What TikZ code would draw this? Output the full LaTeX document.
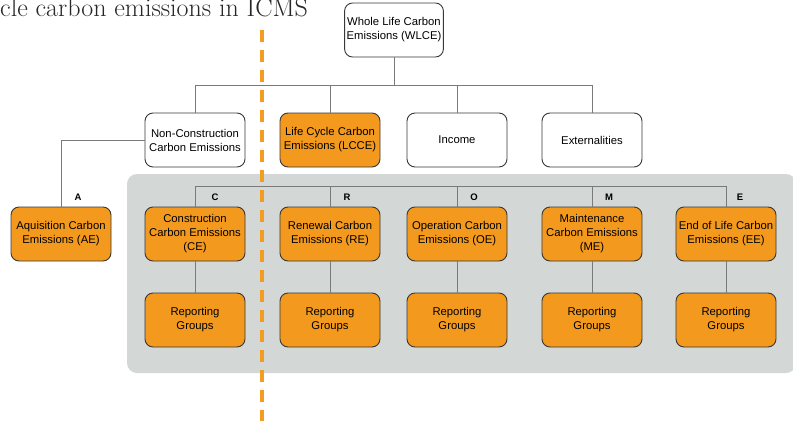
\documentclass[tikz,border=0pt]{standalone}
\usepackage{fontspec}
\setsansfont{Liberation Sans}
\definecolor{boxorange}{HTML}{F39A1E}
\definecolor{panelgray}{HTML}{D3D7D6}
\definecolor{linegray}{HTML}{7A7A7A}
\definecolor{edgegray}{HTML}{383838}
\definecolor{cutorange}{HTML}{F39C1F}

\begin{document}
\begin{tikzpicture}[x=1pt, y=-1pt,
    box/.style={draw=edgegray, line width=0.9pt, rounded corners=8pt,
      minimum width=100pt, minimum height=54pt, align=center, inner sep=2pt,
      font=\sffamily\fontsize{11.3}{14}\selectfont},
    obox/.style={box, fill=boxorange},
    wbox/.style={box, fill=white},
    conn/.style={draw=linegray, line width=0.8pt},
    lbl/.style={font=\sffamily\bfseries\fontsize{9.5}{10}\selectfont}]
    \useasboundingbox (0, 0) rectangle (793, 421);
    \node[anchor=base west, inner sep=0pt, font=\fontsize{26}{26}\selectfont, text=black!85] (title) at (0, 16) {cle carbon emissions in ICMS};

    % grey panel behind the life cycle stages
    \fill[panelgray, rounded corners=10pt] (127, 174) rectangle (796, 373);

    \node[wbox, minimum width=98pt] (wlce) at (394, 30) {Whole Life Carbon\\Emissions (WLCE)};
    \node[wbox] (ncce) at (195, 140) {Non-Construction\\Carbon Emissions};
    \node[obox] (lcce) at (330, 140) {Life Cycle Carbon\\Emissions (LCCE)};
    \node[wbox] (income) at (457, 140) {Income};
    \node[wbox] (ext) at (592, 140) {Externalities};

    \node[obox] (ae) at (61, 234) {Aquisition Carbon\\Emissions (AE)};
    \node[obox] (ce) at (195, 234) {Construction\\Carbon Emissions\\(CE)};
    \node[obox] (re) at (330, 234) {Renewal Carbon\\Emissions (RE)};
    \node[obox] (oe) at (457, 234) {Operation Carbon\\Emissions (OE)};
    \node[obox] (me) at (592, 234) {Maintenance\\Carbon Emissions\\(ME)};
    \node[obox] (ee) at (726, 234) {End of Life Carbon\\Emissions (EE)};

    \node[obox] (rgce) at (195, 320) {Reporting\\Groups};
    \node[obox] (rgre) at (330, 320) {Reporting\\Groups};
    \node[obox] (rgoe) at (457, 320) {Reporting\\Groups};
    \node[obox] (rgme) at (592, 320) {Reporting\\Groups};
    \node[obox] (rgee) at (726, 320) {Reporting\\Groups};

    % top level tree
    \coordinate (tbus) at (394, 85);
    \draw[conn] (wlce) -- (tbus);
    \draw[conn] (tbus) -| (ncce.north);
    \draw[conn] (tbus) -| (lcce.north);
    \draw[conn] (tbus) -| (income.north);
    \draw[conn] (tbus) -| (ext.north);
    \draw[conn] (ncce.west) -| (ae.north);

    % stage tree inside the panel
    \draw[conn] (ce.north) -- ++(0, -20) -| (ee.north);
    \draw[conn] (re.north) -- ++(0, -20);
    \draw[conn] (oe.north) -- ++(0, -20);
    \draw[conn] (me.north) -- ++(0, -20);
    \draw[conn] (ce) -- (rgce);
    \draw[conn] (re) -- (rgre);
    \draw[conn] (oe) -- (rgoe);
    \draw[conn] (me) -- (rgme);
    \draw[conn] (ee) -- (rgee);

    \node[lbl] (la) at (78, 197) {A};
    \node[lbl] (lc) at (215, 197) {C};
    \node[lbl] (lr) at (347, 197) {R};
    \node[lbl] (lo) at (474, 197) {O};
    \node[lbl] (lm) at (609, 197) {M};
    \node[lbl] (le) at (740, 197) {E};

    % cut line
    \coordinate (cuttop) at (262, 30);
    \coordinate (cutbot) at (262, 421);
    \draw[cutorange, line width=3.2pt, dash pattern=on 12pt off 8pt] (cuttop) -- (cutbot);
  \end{tikzpicture}
\end{document}
